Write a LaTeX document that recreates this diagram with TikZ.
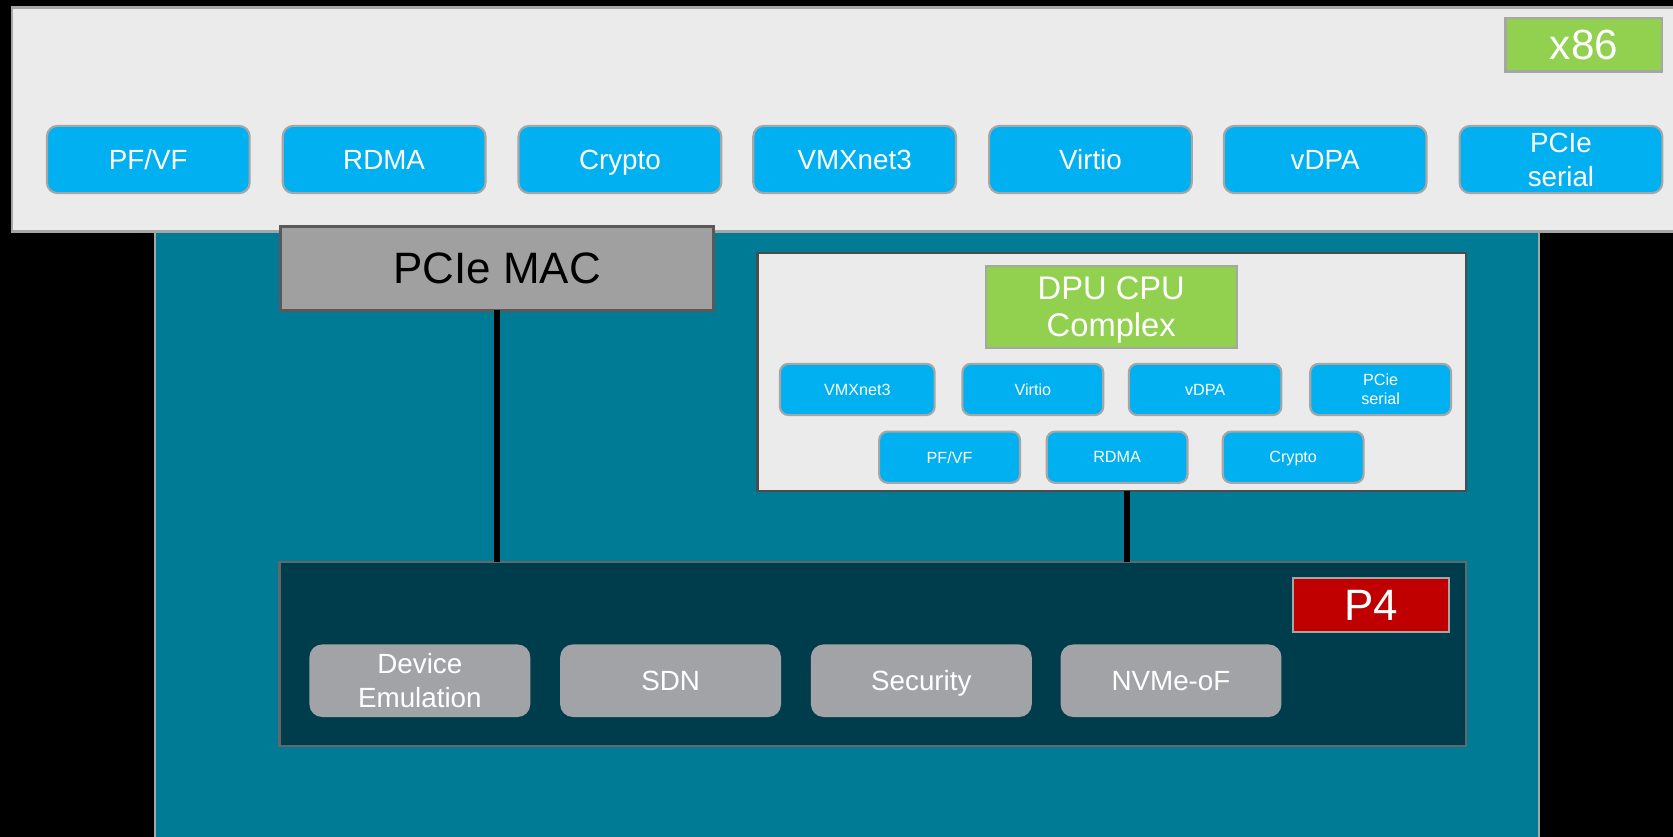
\documentclass[tikz,border=0pt]{standalone}
\usepackage{fontspec}
\setmainfont{Liberation Sans}
\definecolor{hostgrey}{HTML}{EBEBEB}
\definecolor{edgegrey}{HTML}{A6A6A6}
\definecolor{ifblue}{HTML}{00B0F0}
\definecolor{cpugreen}{HTML}{92D050}
\definecolor{dputeal}{HTML}{007B96}
\definecolor{p4dark}{HTML}{003D4C}
\definecolor{p4red}{HTML}{C00000}
\definecolor{macgrey}{HTML}{A0A0A0}
\definecolor{svcgrey}{HTML}{A2A3A6}
\begin{document}
\begin{tikzpicture}[x=0.01067cm,y=-0.01067cm,
  every node/.style={inner sep=0pt,outer sep=0pt,align=center},
  evenline/.style={text depth=0pt},
  panel/.style={draw=#1,line width=0.6pt,anchor=north west},
  tag/.style={draw=edgegrey,line width=0.6pt,fill=#1,text=white},
  hostif/.style={evenline,fill=ifblue,draw=edgegrey,line width=0.6pt,rounded corners=3pt,
    minimum width=190*0.01067cm,minimum height=63*0.01067cm,text=white,
    font=\fontsize{7.9}{9.7}\selectfont},
  dpuif/.style={evenline,fill=ifblue,draw=edgegrey,line width=0.6pt,rounded corners=2.4pt,
    minimum height=48*0.01067cm,text=white,font=\fontsize{4.6}{5.5}\selectfont},
  svc/.style={evenline,fill=svcgrey,rounded corners=3.6pt,minimum width=207*0.01067cm,
    minimum height=68*0.01067cm,text=white,font=\fontsize{7.9}{9.7}\selectfont},
  link/.style={line width=1.8pt,black}
]
% page background
\fill[black] (0,0) rectangle (1568,784);
\useasboundingbox (0,0) rectangle (1568,784);

% DPU die
\node[panel=edgegrey,fill=dputeal,minimum width=1297*0.01067cm,minimum height=600*0.01067cm]
  (dpu) at (145,217) {};

% host system
\node[panel=edgegrey,fill=hostgrey,minimum width=1580*0.01067cm,minimum height=210*0.01067cm]
  (host) at (11,7) {};
\node[tag=cpugreen,minimum width=147*0.01067cm,minimum height=50*0.01067cm,
  font=\fontsize{12}{14}\selectfont] (x86) at (1484.5,42) {x86};

\node[hostif] (hpfvf)   at (139,149.5)  {PF/VF};
\node[hostif] (hrdma)   at (360,149.5)  {RDMA};
\node[hostif] (hcrypto) at (581,149.5)  {Crypto};
\node[hostif] (hvmx)    at (801,149.5)  {VMXnet3};
\node[hostif] (hvirtio) at (1022,149.5) {Virtio};
\node[hostif] (hvdpa)   at (1242,149.5) {vDPA};
\node[hostif] (hpcie)   at (1463,149.5) {PCIe\\serial};

% PCIe MAC
\node[fill=macgrey,draw=black!65,line width=0.8pt,minimum width=406*0.01067cm,
  minimum height=79*0.01067cm,font=\fontsize{12.5}{15}\selectfont] (mac) at (466,251.5) {PCIe MAC};

% DPU CPU complex
\node[panel=black!70,fill=hostgrey,minimum width=664*0.01067cm,minimum height=223*0.01067cm]
  (cpu) at (710,237) {};
\node[tag=cpugreen,evenline,minimum width=235*0.01067cm,minimum height=77*0.01067cm,
  font=\fontsize{9.3}{10.4}\selectfont] (cpulabel) at (1041.5,287.5) {DPU CPU\\Complex};

\node[dpuif,minimum width=145*0.01067cm] (dvmx)    at (803.5,365) {VMXnet3};
\node[dpuif,minimum width=132*0.01067cm] (dvirtio) at (968,365)   {Virtio};
\node[dpuif,minimum width=143*0.01067cm] (dvdpa)   at (1129.5,365) {vDPA};
\node[dpuif,minimum width=132*0.01067cm] (dpcie)   at (1294,365)  {PCie\\serial};
\node[dpuif,minimum width=132*0.01067cm] (dpfvf)   at (890,428.5) {PF/VF};
\node[dpuif,minimum width=132*0.01067cm] (drdma)   at (1047,428.5) {RDMA};
\node[dpuif,minimum width=132*0.01067cm] (dcrypto) at (1212,428.5) {Crypto};

% P4 pipeline
\node[panel=black!60,fill=p4dark,minimum width=1112*0.01067cm,minimum height=172*0.01067cm]
  (p4) at (262,527) {};
\node[tag=p4red,minimum width=146*0.01067cm,minimum height=50*0.01067cm,
  font=\fontsize{12.5}{15}\selectfont] (p4label) at (1285,567) {P4};

\node[svc] (emul)     at (393.5,638)  {Device\\Emulation};
\node[svc] (sdn)      at (628.5,638)  {SDN};
\node[svc] (security) at (863.5,638)  {Security};
\node[svc] (nvme)     at (1097.5,638) {NVMe-oF};

% links into the P4 pipeline
\coordinate (cpuport) at (1056,460);
\draw[link] (mac.south) -- (mac.south |- p4.north);
\draw[link] (cpuport) -- (cpuport |- p4.north);
\end{tikzpicture}
\end{document}
